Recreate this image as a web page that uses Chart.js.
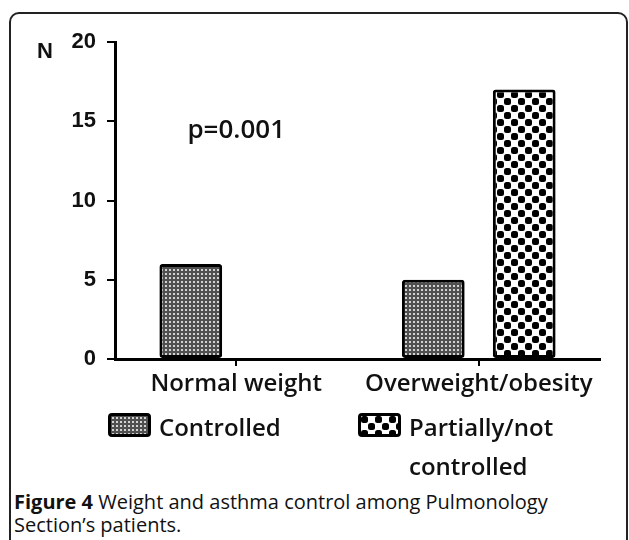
<!DOCTYPE html>
<html lang="en">
<head>
<meta charset="UTF-8">
<title>Weight and asthma control</title>
<script src="https://cdn.jsdelivr.net/npm/chart.js@4"></script>
<style>
    body {
        margin: 0;
        width: 629px;
        height: 540px;
        overflow: hidden;
        background: #fff;
        position: relative;
        font-family: 'Open Sans', sans-serif;
        color: #111;
    }
    .frame {
        position: absolute;
        left: 9px; top: 12px;
        width: 615px; height: 580px;
        border: 2px solid #222;
        border-radius: 10px;
    }
    .chart-box { position: absolute; left: 0; top: 0; width: 629px; height: 410px; }
    .legend-item { position: absolute; top: 407px; font-size: 24px; font-weight: 600; line-height: 39px; }
    .swatch {
        position: absolute; top: 6px; left: 0;
        width: 37px; height: 18px;
        border: 3px solid #000; border-radius: 4px;
    }
    .legend-item span { display: block; margin-left: 51px; }
    .caption {
        position: absolute; left: 14px; top: 490px;
        width: 600px;
        font-size: 20px; line-height: 23px;
    }
</style>
</head>
<body>
<div class="frame"></div>
<div class="chart-box"><canvas id="chart"></canvas></div>
<div class="legend-item" id="leg0" style="left:108px;"><div class="swatch"></div><span></span></div>
<div class="legend-item" id="leg1" style="left:358px; width:200px;"><div class="swatch"></div><span></span></div>
<div class="caption"><b>Figure 4</b> Weight and asthma control among Pulmonology Section’s patients.</div>

<script>
    // data
    const categories = ['Normal weight', 'Overweight/obesity'];
    const seriesNames = ['Controlled', 'Partially/not controlled'];
    const controlled = [6, 5];
    const partial = [0, 17];
    const yMax = 20;
    const yStep = 5;
    const pText = 'p=0.001';

    // fill patterns of the two series
    function patternCanvas(kind) {
        const c = document.createElement('canvas');
        const g = c.getContext('2d');
        if (kind === 'dots') {
            c.width = 4; c.height = 4;
            g.fillStyle = '#505050'; g.fillRect(0, 0, 4, 4);
            g.fillStyle = '#d2d2d2'; g.fillRect(1, 1, 2, 2);
        } else {
            c.width = 14; c.height = 14;
            g.fillStyle = '#fff'; g.fillRect(0, 0, 14, 14);
            g.fillStyle = '#000';
            [[0, 0], [7, 7]].forEach(([x, y]) => {
                g.beginPath(); g.roundRect(x, y, 7, 7, 2.5); g.fill();
            });
        }
        return c;
    }
    const tiles = [patternCanvas('dots'), patternCanvas('checks')];
    const ctx = document.getElementById('chart').getContext('2d');
    const fills = tiles.map(t => ctx.createPattern(t, 'repeat'));

    // html legend
    ['leg0', 'leg1'].forEach((id, i) => {
        const el = document.getElementById(id);
        el.querySelector('.swatch').style.backgroundImage = 'url(' + tiles[i].toDataURL() + ')';
        el.querySelector('span').textContent = seriesNames[i];
    });

    // "N" label and p-value text
    const notes = {
        id: 'notes',
        afterDraw(chart) {
            const { ctx, scales: { x, y } } = chart;
            ctx.save();
            ctx.fillStyle = '#111';
            ctx.textAlign = 'center';
            ctx.textBaseline = 'middle';
            ctx.font = 'bold 22px "Liberation Sans", Arial, sans-serif';
            ctx.fillText('N', y.left + 45, y.getPixelForValue(yMax) + 10);
            ctx.font = '600 26px "Open Sans", sans-serif';
            ctx.fillText(pText, x.getPixelForValue(0), y.getPixelForValue(14.4));
            ctx.restore();
        }
    };

    new Chart(ctx, {
        type: 'bar',
        data: {
            labels: categories,
            datasets: [
                {
                    label: seriesNames[0],
                    data: controlled,
                    backgroundColor: fills[0],
                    borderColor: '#000',
                    borderWidth: 3,
                    borderRadius: 3,
                    borderSkipped: false
                },
                {
                    label: seriesNames[1],
                    data: partial,
                    backgroundColor: fills[1],
                    borderColor: '#000',
                    borderWidth: 3,
                    borderRadius: 3,
                    borderSkipped: false
                }
            ]
        },
        options: {
            responsive: true,
            maintainAspectRatio: false,
            animation: false,
            datasets: { bar: { categoryPercentage: 0.75, barPercentage: 0.69 } },
            layout: { padding: { left: 0, top: 42, right: 29, bottom: 0 } },
            plugins: {
                legend: { display: false },
                tooltip: { enabled: false }
            },
            scales: {
                x: {
                    afterFit(s) { s.height = 51; },
                    grid: { offset: false, drawOnChartArea: false, color: '#000', lineWidth: 2, tickLength: 7 },
                    border: { color: '#000', width: 3 },
                    ticks: {
                        color: '#111',
                        padding: 4,
                        font: { family: 'Open Sans', size: 24, weight: '600' }
                    }
                },
                y: {
                    min: 0,
                    max: yMax,
                    afterFit(s) { s.width = 115; },
                    grid: { drawOnChartArea: false, color: '#000', lineWidth: 2, tickLength: 8 },
                    border: { color: '#000', width: 3 },
                    ticks: {
                        stepSize: yStep,
                        color: '#111',
                        padding: 11,
                        font: { family: 'Liberation Sans', size: 22, weight: 'bold' }
                    }
                }
            }
        },
        plugins: [notes]
    });
</script>
</body>
</html>
